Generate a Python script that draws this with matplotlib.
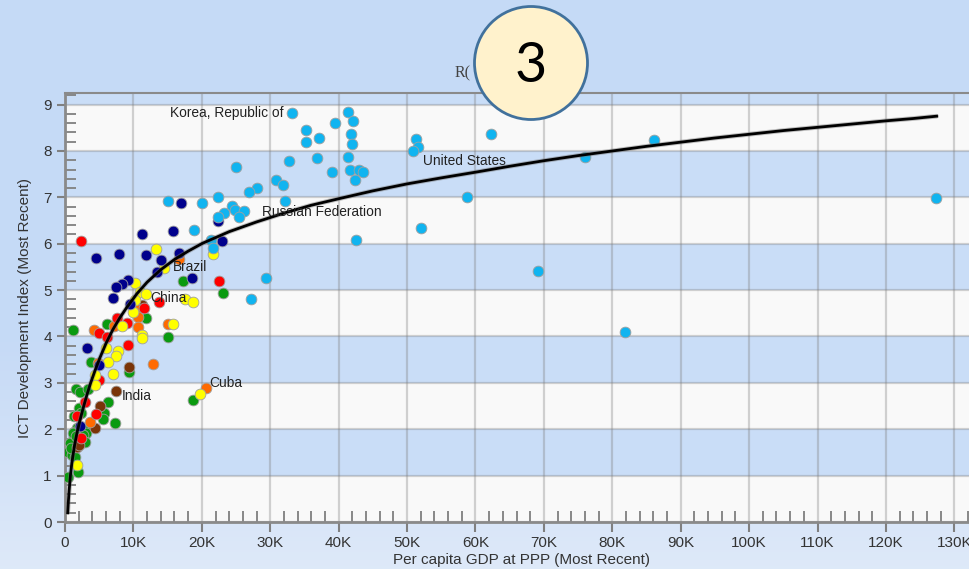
import matplotlib
matplotlib.use("Agg")
import matplotlib.pyplot as plt
import numpy as np
from matplotlib.patches import Circle
from matplotlib.ticker import MultipleLocator

plt.rcParams['font.family'] = ['Liberation Sans', 'DejaVu Sans']

# datos: (PIB per capita en miles, indice TIC)
azul_claro = [
    (33.2, 8.82), (41.4, 8.84), (42.1, 8.64), (39.4, 8.61), (35.3, 8.46), (37.2, 8.28), (35.3, 8.19),
    (41.8, 8.36), (41.9, 8.15), (25.0, 7.66), (32.7, 7.79), (36.9, 7.84), (41.3, 7.87), (39.1, 7.54),
    (41.6, 7.60), (43.0, 7.59), (43.5, 7.54), (42.4, 7.37), (30.9, 7.37), (31.9, 7.27), (28.0, 7.21),
    (26.9, 7.11), (22.4, 7.01), (15.1, 6.92), (20.0, 6.87), (32.1, 6.92), (24.4, 6.82), (24.8, 6.72),
    (26.2, 6.70), (23.2, 6.67), (25.4, 6.57), (22.4, 6.57), (18.9, 6.29), (21.3, 6.09), (42.5, 6.09),
    (21.6, 5.90), (29.4, 5.27), (27.2, 4.80), (51.3, 8.25), (51.6, 8.08), (50.8, 8.00), (62.2, 8.36),
    (86.1, 8.23), (76.0, 7.86), (58.7, 7.01), (52.0, 6.33), (69.2, 5.41), (127.3, 6.99), (81.8, 4.09),
]
azul_oscuro = [
    (17.0, 6.87), (15.8, 6.28), (22.3, 6.49), (22.9, 6.06), (11.3, 6.22), (4.5, 5.70), (7.9, 5.78),
    (11.9, 5.75), (14.1, 5.64), (16.6, 5.81), (13.4, 5.38), (18.6, 5.27), (9.2, 5.22), (8.4, 5.14),
    (7.5, 5.06), (7.0, 4.84), (9.5, 4.70), (3.2, 3.76), (5.0, 3.38), (2.2, 2.07),
]
amarillo = [
    (13.3, 5.89), (14.4, 5.48), (21.6, 5.77), (10.3, 5.15), (11.0, 4.96), (11.9, 4.91), (10.2, 4.78),
    (17.6, 4.81), (18.7, 4.74), (9.9, 4.53), (15.8, 4.26), (8.3, 4.22), (11.3, 4.03), (11.2, 3.97),
    (6.0, 3.76), (7.7, 3.69), (7.4, 3.58), (6.3, 3.46), (7.0, 3.19), (4.4, 3.17), (4.4, 2.95),
    (1.7, 1.23), (19.8, 2.75),
]
rojo = [
    (2.3, 6.06), (22.5, 5.19), (11.5, 4.61), (13.8, 4.74), (7.6, 4.39), (9.0, 4.30), (5.0, 4.07),
    (6.2, 3.99), (9.2, 3.81), (5.0, 3.06), (2.9, 2.58), (4.6, 2.33), (1.8, 2.28), (2.4, 1.82),
]
naranja = [
    (16.6, 5.68), (10.5, 4.59), (10.7, 4.43), (10.6, 4.21), (7.1, 4.23), (4.3, 4.15), (15.0, 4.27),
    (4.8, 3.43), (12.8, 3.40), (3.7, 2.16), (20.6, 2.90),
]
marron = [(11.2, 4.68), (9.3, 3.35), (7.4, 2.83), (5.1, 2.51), (4.4, 2.03), (1.8, 1.62), (2.0, 1.66)]
verde = [
    (17.3, 5.19), (23.1, 4.94), (11.9, 4.39), (6.2, 4.28), (1.2, 4.15), (15.1, 3.99), (3.8, 3.46),
    (9.4, 3.23), (1.6, 2.86), (2.2, 2.80), (3.4, 2.86), (6.3, 2.58), (2.0, 2.45), (5.7, 2.34),
    (5.6, 2.23), (7.3, 2.14), (1.3, 2.29), (2.4, 2.34), (2.9, 2.02), (3.1, 1.91), (1.7, 2.02),
    (1.3, 1.95), (1.1, 1.77), (0.7, 1.70), (0.5, 1.52), (1.0, 1.44), (1.5, 1.41), (1.9, 1.08),
    (0.5, 0.98), (2.6, 1.77), (18.7, 2.64), (2.7, 1.88), (2.9, 1.73), (1.2, 1.91), (0.9, 1.60),
    (1.6, 1.85),
]

# curva de tendencia
curva_x = [0.4, 0.5, 0.6, 0.8, 1.0, 1.4, 1.82, 2.2, 2.7, 3.2, 3.75, 4.4, 5.1, 6.05, 7, 8, 9, 10.5,
           12, 14, 16, 18, 20.1, 24, 28, 32, 36, 40, 45, 50, 55, 60.3, 65, 70, 75, 80, 85, 90,
           95, 100, 105, 110, 115, 120, 124, 127.4]
curva_y = [0.2, 0.46, 0.67, 1.01, 1.27, 1.66, 1.97, 2.20, 2.48, 2.74, 3.00, 3.27, 3.54, 3.87, 4.15,
           4.40, 4.62, 4.92, 5.17, 5.44, 5.66, 5.84, 6.01, 6.26, 6.47, 6.66, 6.83, 6.97, 7.14, 7.29,
           7.42, 7.55, 7.67, 7.79, 7.90, 8.00, 8.10, 8.19, 8.28, 8.36, 8.44, 8.51, 8.58, 8.65, 8.70,
           8.75]

etiquetas = ["Korea, Republic of", "United States", "Russian Federation", "Brazil", "China", "India", "Cuba"]
etiq_x = [31.9, 52.3, 28.8, 15.8, 12.5, 8.3, 21.1]
etiq_y = [8.82, 7.78, 6.68, 5.50, 4.83, 2.72, 2.99]
etiq_ha = ["right", "left", "left", "left", "left", "left", "left"]

xticks = [0, 10, 20, 30, 40, 50, 60, 70, 80, 90, 100, 110, 120, 130]
xtick_labels = ["0", "10K", "20K", "30K", "40K", "50K", "60K", "70K", "80K", "90K",
                "100K", "110K", "120K", "130K"]

fig = plt.figure(figsize=(9.7, 5.69), dpi=100)

# fondo con degradado
fondo = fig.add_axes([0, 0, 1, 1], zorder=-10)
c_arriba = np.array([0.776, 0.855, 0.965])
c_abajo = np.array([0.870, 0.914, 0.976])
t = np.clip((np.linspace(0, 1, 200) - 0.6) / 0.4, 0, 1)[:, None]
grad = c_arriba * (1 - t) + c_abajo * t
fondo.imshow(grad[:, None, :], aspect='auto', extent=[0, 1, 0, 1])
fondo.axis('off')

ax = fig.add_axes([65 / 970, 1 - 522 / 569, (979 - 65) / 970, (522 - 93) / 569])
ax.set_xlim(0, 133.6)
ax.set_ylim(0, 9.25)

for i in range(10):
    col = '#f9f9f9' if i % 2 == 0 else '#c9ddf7'
    ax.axhspan(i, i + 1, color=col, zorder=0, lw=0)

ax.set_axisbelow(True)
ax.grid(True, which='major', color='#7a7a7a', alpha=0.33, lw=1.6)

grupos = [(verde, '#0a9a10'), (marron, '#7a3408'), (naranja, '#ff6a00'), (rojo, '#ff0000'),
          (amarillo, '#ffff00'), (azul_oscuro, '#00008c'), (azul_claro, '#10b4f0')]
for datos, col in grupos:
    d = np.array(datos)
    ax.scatter(d[:, 0], d[:, 1], s=60, color=col, edgecolors='#a0a0a0', linewidths=0.6, zorder=3)

ax.plot(curva_x, curva_y, color='#777777', lw=3.4, alpha=0.45, zorder=4, solid_capstyle='round')
ax.plot(curva_x, curva_y, color='black', lw=2, zorder=4)

for txt, x, y, ha in zip(etiquetas, etiq_x, etiq_y, etiq_ha):
    ax.text(x, y, txt, ha=ha, va='center', fontsize=9.9, color='#222222', zorder=5)

ax.set_xticks(xticks)
ax.set_xticklabels(xtick_labels)
ax.set_yticks(range(10))
ax.xaxis.set_minor_locator(MultipleLocator(2))
ax.yaxis.set_minor_locator(MultipleLocator(0.2))
ax.tick_params(which='major', direction='out', length=6, width=1.5, color='#808080',
               labelsize=11, labelcolor='#333333')
ax.tick_params(axis='x', which='major', length=7, pad=3)
ax.tick_params(which='minor', direction='in', length=8, width=1.3, color='#808080')

for lado in ['left', 'bottom', 'top']:
    ax.spines[lado].set_color('#8a8a8a')
    ax.spines[lado].set_linewidth(2)
ax.spines['top'].set_linewidth(1.5)
ax.spines['right'].set_visible(False)

ax.set_xlabel("Per capita GDP at PPP (Most Recent)", fontsize=11, color='#333333', labelpad=2)
ax.set_ylabel("ICT Development Index (Most Recent)", fontsize=11, color='#333333', labelpad=8)

# titulo tapado y circulo con el numero
capa = fig.add_axes([0, 0, 1, 1], zorder=20)
capa.set_xlim(0, 970)
capa.set_ylim(569, 0)
capa.axis('off')
capa.text(455, 73, "R(", fontsize=11.5, family='Liberation Serif', color='#444444', va='center', ha='left')
capa.add_patch(Circle((531, 63), 56.5, facecolor='#fff2cc', edgecolor='#41719c', lw=2))
capa.text(531, 66, "3", fontsize=40, family='Lato', color='black', ha='center', va='center')

fig.savefig("out.png", dpi=100)
